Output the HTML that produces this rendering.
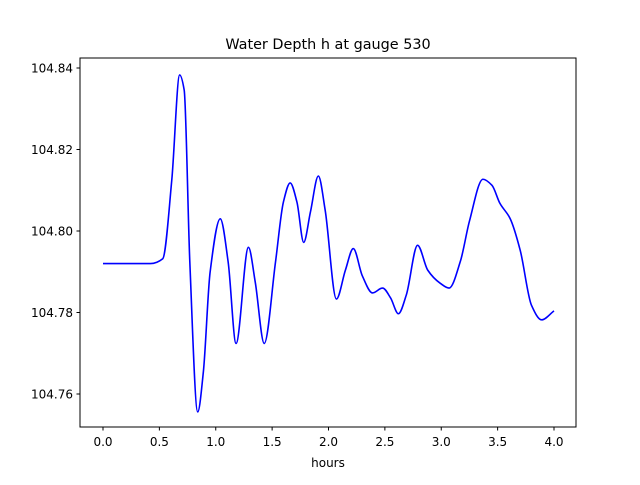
<!DOCTYPE html>
<html><head><meta charset="utf-8"><style>
body{margin:0;background:#fff;}
svg text{font-family:"DejaVu Sans","Liberation Sans",sans-serif;}
</style></head><body>
<svg id="chart" width="640" height="480" xmlns="http://www.w3.org/2000/svg">
<rect width="640" height="480" fill="#fff"/>
<text x="328" y="49" font-size="14.4" text-anchor="middle">Water Depth h at gauge 530</text>
<g id="plot"></g>
<rect x="80" y="58" width="496" height="369" fill="none" stroke="#000" stroke-width="1"/>
<g id="xticks"></g><g id="yticks"></g>
<text x="328" y="467" font-size="12" text-anchor="middle">hours</text>
</svg>
<script>
const hours=[0,0.42,0.53,0.61,0.68,0.72,0.77,0.84,0.89,0.95,1.04,1.11,1.18,1.29,1.35,1.43,1.53,1.60,1.66,1.72,1.78,1.84,1.91,1.97,2.07,2.15,2.22,2.30,2.39,2.48,2.55,2.62,2.69,2.79,2.88,2.99,3.07,3.17,3.25,3.37,3.45,3.52,3.61,3.70,3.80,3.89,4.0];
const depth=[104.792,104.792,104.7932,104.8125,104.8383,104.8346,104.7924,104.7556,104.7654,104.7899,104.8030,104.7924,104.7724,104.7960,104.7875,104.7724,104.7924,104.8071,104.8118,104.8071,104.7972,104.8047,104.8135,104.8052,104.7833,104.7904,104.7957,104.7890,104.7848,104.7860,104.7836,104.7797,104.7843,104.7965,104.7904,104.7872,104.7860,104.7926,104.8024,104.8127,104.8112,104.8068,104.8031,104.7953,104.7818,104.7782,104.7804];
const xTicks=[0,0.5,1,1.5,2,2.5,3,3.5,4];
const yTicks=[104.76,104.78,104.80,104.82,104.84];
const X=v=>103+v*112.75, Y=v=>68+(104.84-v)*4075;
const NS="http://www.w3.org/2000/svg";
const xs=hours.map(X), ys=depth.map(Y), n=xs.length;
const dl=[], m=new Array(n);
for(let i=0;i<n-1;i++) dl.push((ys[i+1]-ys[i])/(xs[i+1]-xs[i]));
m[0]=dl[0]; m[n-1]=dl[n-2];
for(let i=1;i<n-1;i++){
 if(dl[i-1]*dl[i]<=0) m[i]=0;
 else { const w1=2*(xs[i+1]-xs[i])+(xs[i]-xs[i-1]), w2=(xs[i+1]-xs[i])+2*(xs[i]-xs[i-1]); m[i]=(w1+w2)/(w1/dl[i-1]+w2/dl[i]); }
}
let d="M"+xs[0]+","+ys[0];
for(let i=0;i<n-1;i++){
 const h=(xs[i+1]-xs[i])/3;
 d+=`C${xs[i]+h},${ys[i]+m[i]*h} ${xs[i+1]-h},${ys[i+1]-m[i+1]*h} ${xs[i+1]},${ys[i+1]}`;
}
const path=document.createElementNS(NS,"path");


path.setAttribute("d",d);path.setAttribute("fill","none");path.setAttribute("stroke","#0000ff");path.setAttribute("stroke-width","1.6");
document.getElementById("plot").appendChild(path);
const xg=document.getElementById("xticks");
xTicks.forEach(t=>{
 const l=document.createElementNS(NS,"line");
 
 
 l.setAttribute("x1",X(t));l.setAttribute("x2",X(t));l.setAttribute("y1",427);l.setAttribute("y2",430.5);l.setAttribute("stroke","#000");
 xg.appendChild(l);
 const tx=document.createElementNS(NS,"text");
 
 
 tx.setAttribute("x",X(t));tx.setAttribute("y",446);tx.setAttribute("font-size","12");tx.setAttribute("text-anchor","middle");
 tx.textContent=t.toFixed(1);xg.appendChild(tx);
});
const yg=document.getElementById("yticks");
yTicks.forEach(t=>{
 const l=document.createElementNS(NS,"line");
 
 
 l.setAttribute("x1",76.5);l.setAttribute("x2",80);l.setAttribute("y1",Y(t));l.setAttribute("y2",Y(t));l.setAttribute("stroke","#000");
 yg.appendChild(l);
 const tx=document.createElementNS(NS,"text");
 
 
 tx.setAttribute("x",73);tx.setAttribute("y",Y(t)+4.5);tx.setAttribute("font-size","12");tx.setAttribute("text-anchor","end");
 tx.textContent=t.toFixed(2);yg.appendChild(tx);
});
</script>
</body></html>
